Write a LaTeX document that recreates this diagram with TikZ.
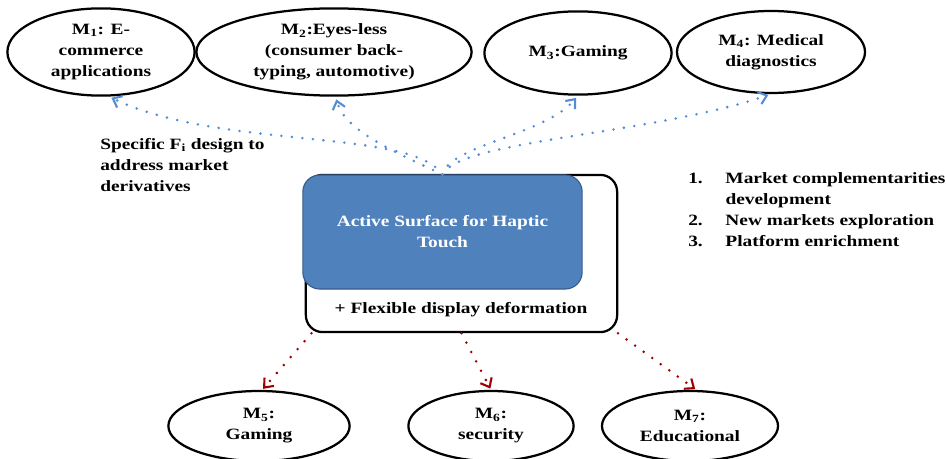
\documentclass[tikz,border=0pt]{standalone}
\usepackage{fontspec}
\setmainfont[FakeStretch=1.23]{Liberation Serif}
\usepackage{xcolor}
\definecolor{surfBlue}{RGB}{79,129,189}
\definecolor{surfEdge}{RGB}{56,93,138}
\definecolor{dotBlue}{RGB}{84,141,212}
\definecolor{dotRed}{RGB}{160,0,0}
\usepackage{tikz}
\usetikzlibrary{arrows.meta,shapes.geometric,positioning}
\tikzstyle{market}=[ellipse, draw=black, line width=1.6pt, inner sep=0pt, align=center]
\tikzstyle{upflow}=[dotBlue, line width=2pt, dash pattern=on 0pt off 7.5pt, line cap=round,
  -{Straight Barb[length=5.5pt,width=9pt,line width=1.5pt]}, shorten >=2pt]
\tikzstyle{downflow}=[upflow, dotRed, shorten >=1pt]

\begin{document}
\begin{tikzpicture}[x=0.025cm, y=-0.025cm, font=\fontsize{11.2}{14.9}\selectfont\bfseries]
    \useasboundingbox (0,0) rectangle (946,459);

    % Marchés du haut
    \node[market, minimum width=4.68cm, minimum height=2.18cm] (m1) at (101,52) {M\textsubscript{1}: E-\\commerce\\applications};
    \node[market, minimum width=6.88cm, minimum height=2.18cm] (m2) at (334,52) {M\textsubscript{2}:Eyes-less\\(consumer back-\\typing, automotive)};
    \node[market, minimum width=4.68cm, minimum height=2.08cm] (m3) at (578,53) {M\textsubscript{3}:Gaming};
    \node[market, minimum width=4.70cm, minimum height=2.05cm] (m4) at (771,52) {M\textsubscript{4}: Medical\\diagnostics};

    % Surface active
    \node[draw=black, line width=1.6pt, rounded corners=0.42cm, minimum width=7.78cm, minimum height=3.93cm] (frame) at (461.5,253.5) {};
    \node[fill=surfBlue, draw=surfEdge, line width=0.8pt, rounded corners=0.42cm, minimum width=6.98cm, minimum height=2.85cm, text=white, align=center] (haptic) at (442.5,232) {Active Surface for Haptic\\Touch};
    \node (deform) at (461,310) {+ Flexible display deformation};

    % Textes
    \node[anchor=west, inner sep=0pt, align=left] (spec) at (100,165) {Specific F\textsubscript{i} design to\\address market\\derivatives};
    \node[anchor=west, inner sep=0pt] (goals) at (688,211) {%
      \begin{tabular}{@{}p{0.93cm}@{}l@{}}
        1. & Market complementarities\\
           & development\\
        2. & New markets exploration\\
        3. & Platform enrichment
      \end{tabular}};

    % Marchés du bas
    \node[market, minimum width=4.53cm, minimum height=1.75cm] (m5) at (259,426) {M\textsubscript{5}:\\Gaming};
    \node[market, minimum width=4.13cm, minimum height=1.75cm] (m6) at (491,426) {M\textsubscript{6}:\\security};
    \node[market, minimum width=4.40cm, minimum height=1.75cm] (m7) at (690,426) {M\textsubscript{7}:\\Educational};

    % Flèches
    \draw[upflow] (haptic.north) .. controls (410,128) and (220,150) .. (m1.-80);
    \draw[upflow] (haptic.north) .. controls (390,150) and (345,130) .. (m2.-88);
    \draw[upflow] (haptic.north) .. controls (450,145) and (545,135) .. (m3.south);
    \draw[upflow] (haptic.north) .. controls (460,140) and (650,135) .. (m4.south);
    \draw[downflow] (frame.-152) -- (m5.85);
    \draw[downflow] (frame.south) -- (m6.north);
    \draw[downflow] (frame.-27) -- (m7.80);
  \end{tikzpicture}
\end{document}
